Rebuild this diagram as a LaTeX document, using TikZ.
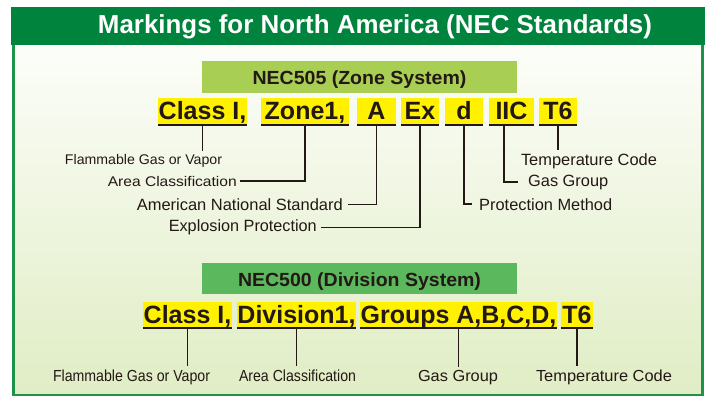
\documentclass[tikz,border=0pt]{standalone}
\usepackage{fontspec}
\setmainfont{Liberation Sans}
\usepackage{graphicx}
\definecolor{hdr}{RGB}{0,132,61}
\definecolor{frm}{RGB}{30,146,72}
\definecolor{ink}{RGB}{35,24,21}
\definecolor{ylw}{RGB}{255,241,0}
\definecolor{lg}{RGB}{169,206,84}
\definecolor{mg}{RGB}{91,184,93}
\definecolor{bgb}{RGB}{224,237,196}
\definecolor{bgm}{RGB}{246,248,236}
\newcommand{\fw}[2]{\resizebox{#1}{\height}{#2}}
\begin{document}
\begin{tikzpicture}[x=1pt,y=-1pt,
  ybox/.style={fill=ylw, inner xsep=0pt, inner ysep=0pt, text height=21.5pt, text depth=5pt,
    font=\fontsize{25}{25}\selectfont\bfseries, text=ink, minimum width=#1},
  hbox/.style={fill=#1, inner sep=0pt, minimum width=315pt, text height=14.5pt, text depth=0pt,
    text=ink, font=\fontsize{19}{19}\selectfont\bfseries},
  uline/.style={draw=ink, line width=2.4pt},
  conn/.style={draw=ink, line width=1.4pt},
  labA/.style={inner xsep=3pt, inner ysep=3pt, text=ink, font=\fontsize{14}{14}\selectfont},
  labB/.style={inner xsep=3pt, inner ysep=3pt, text=ink, font=\fontsize{16.3}{16.3}\selectfont},
  labC/.style={inner xsep=3pt, inner ysep=3pt, text=ink, font=\fontsize{16}{16}\selectfont},
]
\useasboundingbox (0,0) rectangle (711,396);
% frame
\path[top color=white, middle color=bgm, bottom color=bgb] (13.5,8) rectangle (702.5,395);
\fill[hdr] (11,7) rectangle (705,45);
\draw[frm, line width=2.6pt] (13.5,45) -- (13.5,395) -- (702.5,395) -- (702.5,45);
\node[anchor=base, inner sep=0pt, text=white, font=\fontsize{26}{26}\selectfont\bfseries] (title) at (375,34)
  {\fw{554pt}{Markings for North America (NEC Standards)}};

% NEC505
\node[hbox=lg, minimum height=32pt] (z505) at (359.5,77) {\fw{214pt}{NEC505 (Zone System)}};
\node[ybox=89pt] (c1) at (202.5,111.25) {Class I,};
\node[ybox=88pt] (zone) at (305,111.25) {Zone1,};
\node[ybox=39pt] (a) at (376.5,111.25) {A};
\node[ybox=38pt] (ex) at (420,111.25) {Ex};
\node[ybox=38pt] (d) at (464,111.25) {d};
\node[ybox=45pt] (iic) at (511.5,111.25) {IIC};
\node[ybox=38pt] (t6) at (558,111.25) {T6};
\foreach \n in {c1,zone,a,ex,d,iic,t6}{\draw[uline] (\n.south west) -- (\n.south east);}

\node[labA, anchor=base] (lflam) at (143.5,164.3) {\fw{157pt}{Flammable Gas or Vapor}};
\node[labA, anchor=base east] (larea) at (240,186) {\fw{129pt}{Area Classification}};
\node[labB, anchor=base east, inner xsep=5pt] (lamer) at (348,210.5) {\fw{206pt}{American National Standard}};
\node[labB, anchor=base east, inner xsep=4pt] (lexpl) at (321,231.6) {\fw{148pt}{Explosion Protection}};
\node[labB, anchor=base] (ltemp) at (589,165) {\fw{136pt}{Temperature Code}};
\node[labB, anchor=base west, inner xsep=10pt] (lgas) at (518,186) {\fw{80pt}{Gas Group}};
\node[labB, anchor=base west, inner xsep=7pt] (lprot) at (472,210) {\fw{133pt}{Protection Method}};

\draw[conn] (c1.south) -- (c1.south |- lflam.north);
\draw[conn] (zone.south) |- (larea.east);
\draw[conn] (a.south) |- (lamer.east);
\draw[conn] (ex.south) |- (lexpl.east);
\draw[conn] (d.south) |- (lprot.west);
\draw[conn] ([xshift=-7.5pt]iic.south) |- (lgas.west);
\draw[conn] (t6.south) -- (t6.south |- ltemp.north);

% NEC500
\node[hbox=mg, minimum height=31pt, text height=15pt] (z500) at (359.5,278.5) {\fw{243pt}{NEC500 (Division System)}};
\node[ybox=89pt] (b1) at (187.5,314.75) {Class I,};
\node[ybox=119pt] (b2) at (296.5,314.75) {Division1,};
\node[ybox=197pt] (b3) at (458.5,314.75) {Groups A,B,C,D,};
\node[ybox=32pt] (b4) at (577,314.75) {T6};
\foreach \n in {b1,b2,b3,b4}{\draw[uline] (\n.south west) -- (\n.south east);}

\node[labC, anchor=base] (bflam) at (131.5,381) {\fw{157pt}{Flammable Gas or Vapor}};
\node[labC, anchor=base] (barea) at (297.5,381) {\fw{117pt}{Area Classification}};
\node[labC, anchor=base] (bgas) at (458,381) {\fw{80pt}{Gas Group}};
\node[labC, anchor=base] (btemp) at (604,381) {\fw{136pt}{Temperature Code}};

\draw[conn] (b1.south) -- (b1.south |- bflam.north);
\draw[conn] (b2.south) -- (b2.south |- barea.north);
\draw[conn] (b3.south) -- (b3.south |- bgas.north);
\draw[conn] (b4.south) -- (b4.south |- btemp.north);
\end{tikzpicture}
\end{document}
